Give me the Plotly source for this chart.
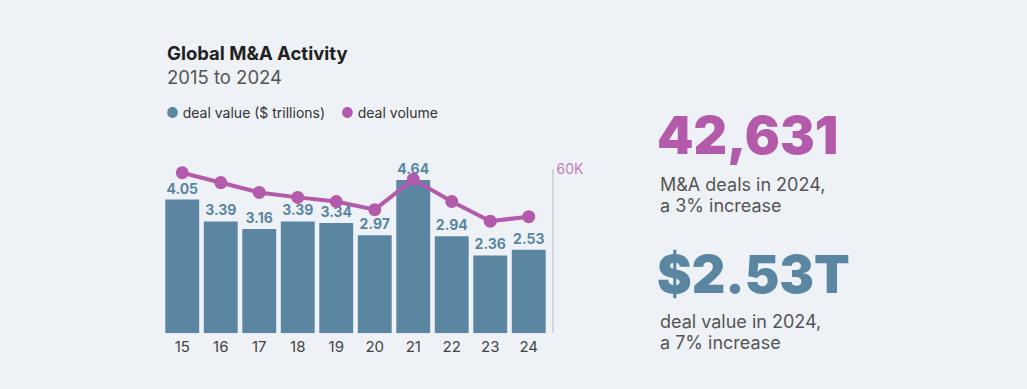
import plotly.graph_objects as go

years = ["15", "16", "17", "18", "19", "20", "21", "22", "23", "24"]
deal_value = [4.05, 3.39, 3.16, 3.39, 3.34, 2.97, 4.64, 2.94, 2.36, 2.53]
deal_volume = [58700, 55100, 51500, 49700, 48200, 45200, 56300, 48200, 41000, 42631]

BLUE = "#5b86a1"
PURPLE = "#b45aaa"
BG = "#eef2f6"
W, H = 1027, 389

def px(x):
    return x / W

def py(y):
    return 1 - y / H

fig = go.Figure()
fig.add_trace(go.Bar(
    x=years, y=deal_value, marker=dict(color=BLUE, line=dict(width=0)),
    text=[f"{v:.2f}" for v in deal_value], textposition="outside",
    textfont=dict(family="Inter", size=14, color=BLUE, weight=700),
    cliponaxis=False, showlegend=False, hoverinfo="skip",
))
fig.add_trace(go.Scatter(
    x=years, y=deal_volume, yaxis="y2", mode="lines+markers",
    line=dict(color=PURPLE, width=4), marker=dict(size=13, color=PURPLE),
    cliponaxis=False, showlegend=False,
))

x0, x1 = 163, 548
ytop, ybot = 164, 332
fig.update_layout(
    width=W, height=H, margin=dict(l=0, r=0, t=0, b=0),
    paper_bgcolor=BG, plot_bgcolor=BG, bargap=0.12,
    font=dict(family="Inter", color="#444"),
    xaxis=dict(domain=[px(x0), px(x1)], range=[-0.5, 9.5], showgrid=False,
               zeroline=False, showline=False, ticks="", ticklabelstandoff=3,
               tickfont=dict(size=15, color="#444")),
    yaxis=dict(domain=[py(ybot), py(ytop)], range=[0, 4.97], visible=False),
    yaxis2=dict(overlaying="y", side="right", anchor="free", position=px(553),
                range=[0, 60000], tickvals=[0, 60000], ticktext=["", "60K"],
                showline=True, linecolor="#cfd6dd", linewidth=1.5,
                ticks="inside", ticklen=4, tickcolor="#cfd6dd", showgrid=False,
                zeroline=False, tickfont=dict(size=14, color="#c27cba")),
)

ann = [
    dict(x=px(166), y=py(45), text="<b>Global M&A Activity</b>", size=18.5, color="#222"),
    dict(x=px(166), y=py(70), text="2015 to 2024", size=18.5, color="#555"),
    dict(x=px(165), y=py(106), text=f"<span style='color:{BLUE}'>●</span> deal value ($ trillions)", size=14, color="#333"),
    dict(x=px(340), y=py(106), text=f"<span style='color:{PURPLE}'>●</span> deal volume", size=14, color="#333"),
    dict(x=px(656), y=py(130), text="42,631", size=52, color=PURPLE, weight=900),
    dict(x=px(659), y=py(180), text="M&A deals in 2024,", size=18, color="#555"),
    dict(x=px(659), y=py(201), text="a 3% increase", size=18, color="#555"),
    dict(x=px(656), y=py(272), text="$2.53T", size=52, color=BLUE, weight=900),
    dict(x=px(659), y=py(320), text="deal value in 2024,", size=18, color="#555"),
    dict(x=px(659), y=py(341), text="a 7% increase", size=18, color="#555"),
]
for a in ann:
    f = dict(family="Inter", size=a["size"], color=a["color"])
    if "weight" in a:
        f["weight"] = a["weight"]
    fig.add_annotation(x=a["x"], y=a["y"], xref="paper", yref="paper",
                       text=a["text"], showarrow=False, xanchor="left",
                       yanchor="middle", borderpad=0, font=f)

fig.write_html("out.html", config={"displayModeBar": False})
with open("out.html", encoding="utf-8") as fh:
    html = fh.read()
html = html.replace("<body>", f"<body style=\"margin:0;background:{BG}\">", 1)
with open("out.html", "w", encoding="utf-8") as fh:
    fh.write(html)
